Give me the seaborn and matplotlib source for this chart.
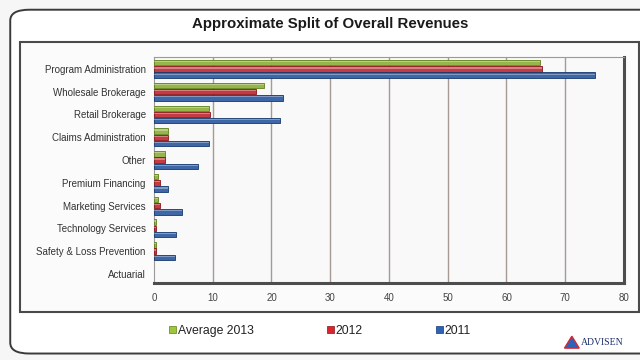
import matplotlib
matplotlib.use("Agg")
import matplotlib.pyplot as plt
from matplotlib.patches import FancyBboxPatch, Rectangle, Polygon
import seaborn as sns
import pandas as pd

categories = [
    "Program Administration", "Wholesale Brokerage", "Retail Brokerage",
    "Claims Administration", "Other", "Premium Financing", "Marketing Services",
    "Technology Services", "Safety & Loss Prevention", "Actuarial",
]
series = ["Average 2013", "2012", "2011"]
avg_2013 = [65.7, 18.7, 9.4, 2.4, 1.8, 0.7, 0.7, 0.3, 0.3, 0.0]
rev_2012 = [66.1, 17.4, 9.5, 2.4, 1.9, 1.0, 1.0, 0.4, 0.3, 0.0]
rev_2011 = [75.1, 21.9, 21.5, 9.4, 7.5, 2.4, 4.7, 3.7, 3.5, 0.0]
x_ticks = [0, 10, 20, 30, 40, 50, 60, 70, 80]

colors = {"Average 2013": "#9dc63a", "2012": "#d8262e", "2011": "#2c63b9"}
edges = {"Average 2013": "#5f7f1a", "2012": "#8a1218", "2011": "#17386e"}

df = pd.DataFrame({
    "category": categories * 3,
    "series": [s for s in series for _ in categories],
    "value": avg_2013 + rev_2012 + rev_2011,
})

sns.set_theme(style="white")
plt.rcParams["font.family"] = ["Liberation Sans", "DejaVu Sans"]

fig = plt.figure(figsize=(6.4, 3.6), dpi=100)
fig.patch.set_facecolor("#f6f6f6")

# outer rounded frame
fig.patches.append(FancyBboxPatch((0.016, 0.018), 1.05, 0.955,
                                  boxstyle="round,pad=0,rounding_size=0.03",
                                  transform=fig.transFigure, facecolor="#ffffff",
                                  edgecolor="#3a3a3a", linewidth=1.4, zorder=-2))
# inner chart box
fig.patches.append(Rectangle((0.032, 0.134), 0.966, 0.749,
                             transform=fig.transFigure, facecolor="#fbfbfb",
                             edgecolor="#4a4a4a", linewidth=1.5, zorder=-1))

ax = fig.add_axes([0.2406, 0.214, 0.7344, 0.628])
ax.set_zorder(2)
ax.set_facecolor("#f9f9f9")
sns.barplot(data=df, y="category", x="value", hue="series", orient="h",
            palette=colors, hue_order=series, width=0.82, gap=0.12,
            legend=False, ax=ax, zorder=3)

# cylinder-style edges and a highlight stripe on every bar
for container, s in zip(ax.containers, series):
    for bar in container:
        if bar.get_width() > 0:
            bar.set_edgecolor(edges[s])
            bar.set_linewidth(0.6)
            y0, h = bar.get_y(), bar.get_height()
            ax.add_patch(Rectangle((0, y0 + h * 0.2), bar.get_width(), h * 0.22,
                                   facecolor="white", alpha=0.35, linewidth=0,
                                   zorder=4))
        else:
            bar.set_linewidth(0)

ax.set_xlim(0, 80)
ax.set_ylim(9.4, -0.53)
ax.set_xticks(x_ticks)
ax.set_xticklabels([str(t) for t in x_ticks], fontsize=7, color="#444444")
ax.tick_params(axis="y", labelsize=7, labelcolor="#333333", length=0, pad=6)
ax.tick_params(axis="x", length=0, pad=7)
ax.set_xlabel("")
ax.set_ylabel("")
for t in x_ticks[1:]:
    ax.axvline(t, color="#a59b94", linewidth=1.0, zorder=1)

for side in ["left", "top"]:
    ax.spines[side].set_color("#9a9a9a")
    ax.spines[side].set_linewidth(0.8)
for side in ["right", "bottom"]:
    ax.spines[side].set_color("#4d4d4d")
    ax.spines[side].set_linewidth(2.2)

fig.text(0.516, 0.933, "Approximate Split of Overall Revenues",
         ha="center", va="center", fontsize=10.8, fontweight="bold", color="#1a1a1a")

handles = [Rectangle((0, 0), 1, 1, facecolor=colors[s], edgecolor=edges[s], linewidth=0.5)
           for s in series]
fig.legend(handles, series, loc="center", bbox_to_anchor=(0.5, 0.081), ncol=3,
           frameon=False, fontsize=8.8, handlelength=0.55, handleheight=0.55,
           handletextpad=0.15, columnspacing=6.0, labelcolor="#222222")

# publisher mark
tri = Polygon([[0.882, 0.033], [0.905, 0.033], [0.8935, 0.066]], closed=True,
              transform=fig.transFigure, facecolor="#2c63b9", edgecolor="#d8262e",
              linewidth=1.0)
fig.patches.append(tri)
fig.text(0.907, 0.048, "ADVISEN", fontsize=7, family="Liberation Serif",
         color="#1f2f6e", va="center", ha="left")

fig.savefig("out.png", dpi=100, facecolor=fig.get_facecolor())
